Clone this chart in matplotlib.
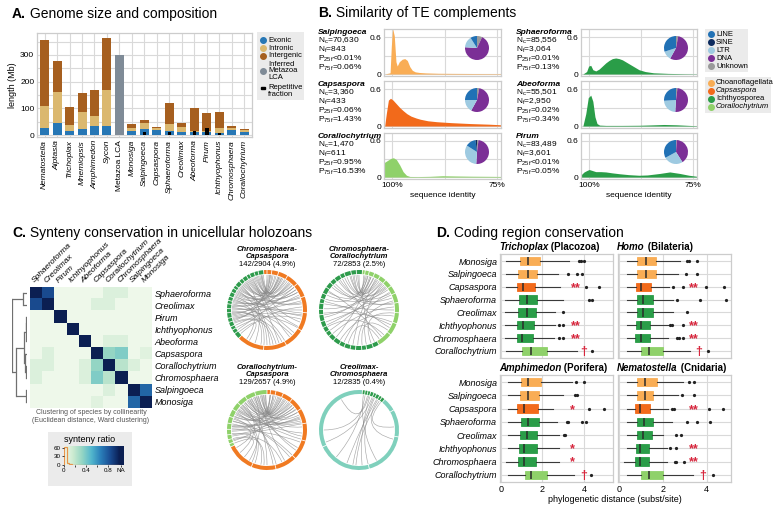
import numpy as np
import matplotlib
matplotlib.use('Agg')
import matplotlib.pyplot as plt
from matplotlib.patches import Wedge, Rectangle, PathPatch
from matplotlib.path import Path
from matplotlib.colors import LinearSegmentedColormap

plt.rcParams['font.family'] = ['Liberation Sans', 'DejaVu Sans']
plt.rcParams['mathtext.default'] = 'regular'

# ---------------- Panel A data ----------------
genome_species = ['Nematostella', 'Aiptasia', 'Trichoplax', 'Mnemiopsis', 'Amphimedon', 'Sycon',
                  'Metazoa LCA', 'Monosiga', 'Salpingoeca', 'Capsaspora', 'Sphaeroforma', 'Creolimax',
                  'Abeoforma', 'Pirum', 'Ichthyophonus', 'Chromosphaera', 'Corallochytrium']
exonic = [25, 45, 15, 22, 35, 33, 0, 16, 22, 20, 15, 13, 12, 10, 8, 20, 13]
intronic = [85, 115, 23, 63, 35, 135, 0, 9, 23, 6, 25, 19, 4, 5, 20, 5, 7]
intergenic = [247, 117, 67, 72, 98, 194, 0, 16, 10, 4, 82, 12, 85, 69, 60, 10, 4]
metazoa_lca = [0, 0, 0, 0, 0, 0, 300, 0, 0, 0, 0, 0, 0, 0, 0, 0, 0]
repetitive = [0, 0, 0, 0, 0, 0, 0, 1, 12, 2, 10, 2, 17, 28, 8, 2, 1]

# ---------------- Panel B data ----------------
te_species = ['Salpingoeca', 'Capsaspora', 'Corallochytrium', 'Sphaeroforma', 'Abeoforma', 'Pirum']
te_nc = ['70,630', '3,360', '1,470', '85,556', '55,501', '83,489']
te_nf = ['843', '433', '611', '3,064', '2,950', '3,601']
te_p25 = ['<0.01%', '=0.06%', '=0.95%', '=0.01%', '=0.02%', '<0.01%']
te_p75 = ['=0.06%', '=1.43%', '=16.53%', '=0.13%', '=0.34%', '=0.05%']
te_group = ['Choanoflagellata', 'Capsaspora', 'Corallochytrium', 'Ichthyosporea', 'Ichthyosporea', 'Ichthyosporea']
te_classes = ['Unknown', 'DNA', 'LTR', 'LINE', 'SINE']
te_pie = [[0.07, 0.69, 0.15, 0.09, 0.00],
          [0.03, 0.55, 0.17, 0.25, 0.00],
          [0.02, 0.49, 0.33, 0.14, 0.02],
          [0.03, 0.55, 0.12, 0.30, 0.00],
          [0.02, 0.49, 0.23, 0.26, 0.00],
          [0.01, 0.40, 0.26, 0.33, 0.00]]
sal_x = [101.8, 100.5, 100.2, 99.9, 99.5, 99.1, 98.8, 98.3, 97.6, 97.0, 96.4, 95.8, 95.2, 94.5, 93.5, 92.0, 89.0, 85.0, 80.0, 74.0]
sal_y = [0.0, 0.02, 0.45, 0.74, 0.62, 0.20, 0.13, 0.20, 0.24, 0.25, 0.22, 0.12, 0.06, 0.035, 0.025, 0.018, 0.012, 0.01, 0.008, 0.006]
cap_x = [101.8, 101.4, 100.9, 100.4, 99.8, 99.0, 98.2, 97.4, 96.5, 95.5, 94.3, 93.3, 91.5, 89.4, 86.0, 81.4, 77.0, 74.0]
cap_y = [0.0, 0.2, 0.42, 0.45, 0.42, 0.36, 0.30, 0.25, 0.20, 0.16, 0.13, 0.11, 0.085, 0.07, 0.055, 0.04, 0.03, 0.02]
cor_x = [101.9, 101.0, 100.3, 99.7, 99.0, 98.2, 97.4, 96.6, 95.8, 94.0, 91.0, 88.0, 85.0, 81.0, 77.0, 74.0]
cor_y = [0.24, 0.28, 0.31, 0.32, 0.29, 0.20, 0.09, 0.03, 0.01, 0.008, 0.012, 0.022, 0.018, 0.014, 0.012, 0.01]
sph_x = [101.5, 100.6, 100.1, 99.6, 99.1, 98.4, 97.6, 96.8, 96.0, 95.2, 94.4, 93.6, 92.8, 92.0, 91.0, 90.0, 89.0, 88.0, 86.5, 84.5, 81.0, 77.0, 74.0]
sph_y = [0.0, 0.04, 0.13, 0.14, 0.07, 0.05, 0.08, 0.13, 0.18, 0.22, 0.25, 0.26, 0.25, 0.23, 0.19, 0.15, 0.11, 0.07, 0.04, 0.02, 0.01, 0.005, 0.003]
abe_x = [101.5, 100.8, 100.2, 99.6, 99.1, 98.6, 98.1, 97.5, 96.0, 92.0, 88.0, 85.0, 82.0, 79.0, 76.0, 74.0]
abe_y = [0.0, 0.2, 0.46, 0.5, 0.4, 0.15, 0.04, 0.015, 0.01, 0.01, 0.012, 0.018, 0.025, 0.02, 0.01, 0.005]
pir_x = [101.9, 101.2, 100.5, 100.0, 99.3, 98.4, 97.2, 96.0, 94.5, 92.7, 90.5, 88.0, 86.0, 83.0, 80.6, 78.2, 76.0, 74.0]
pir_y = [0.04, 0.085, 0.11, 0.125, 0.11, 0.09, 0.09, 0.085, 0.07, 0.055, 0.04, 0.03, 0.035, 0.06, 0.085, 0.06, 0.03, 0.012]
te_curves_x = [sal_x, cap_x, cor_x, sph_x, abe_x, pir_x]
te_curves_y = [sal_y, cap_y, cor_y, sph_y, abe_y, pir_y]

# ---------------- Panel C data ----------------
syn_species = ['Sphaeroforma', 'Creolimax', 'Pirum', 'Ichthyophonus', 'Abeoforma',
               'Capsaspora', 'Corallochytrium', 'Chromosphaera', 'Salpingoeca', 'Monosiga']
syn_base = 0.02
syn_pairs = [(0, 1, 0.85), (0, 6, 0.10), (0, 7, 0.10), (1, 5, 0.10), (1, 6, 0.10),
             (4, 6, 0.10), (4, 7, 0.10), (5, 6, 0.33), (5, 7, 0.38), (5, 9, 0.08),
             (6, 7, 0.22), (6, 8, 0.10), (8, 9, 0.75)]
# linkage: (child a, child b, height); leaves 0-9, clusters 10+
syn_linkage = [(2, 3, 0.25), (6, 7, 0.30), (8, 9, 0.20), (4, 10, 0.40), (5, 11, 0.50),
               (13, 14, 0.80), (0, 1, 0.95), (15, 12, 2.85), (16, 17, 4.0)]
syn_hist = [62, 6, 2, 1, 1, 0, 1, 0, 0, 0, 0, 0, 0, 0, 0, 1, 1, 1, 0, 0]

circ_titles = ['Chromosphaera-\nCapsaspora', 'Chromosphaera-\nCorallochytrium',
               'Corallochytrium-\nCapsaspora', 'Creolimax-\nChromosphaera']
circ_counts = ['142/2904 (4.9%)', '72/2853 (2.5%)', '129/2657 (4.9%)', '12/2835 (0.4%)']
circ_species = [['Chromosphaera', 'Capsaspora'], ['Chromosphaera', 'Corallochytrium'],
                ['Corallochytrium', 'Capsaspora'], ['Creolimax', 'Chromosphaera']]
circ_start = [95, 85, 90, 85]
circ_contigs = [
    [[8, 6, 7, 5, 7, 6, 8, 5, 6, 7, 6, 5, 7, 6, 8, 6, 7, 5, 6, 9],
     [40, 34, 30, 27, 24, 21, 18, 14, 10, 7, 5]],
    [[9, 8, 10, 7, 9, 8, 9, 10, 8, 7, 9, 8, 10, 9, 8, 7, 9, 10, 8, 9, 8, 9, 7, 10, 9],
     [22, 18, 16, 15, 14, 12, 11, 10, 9, 8, 6, 4]],
    [[18, 15, 14, 12, 11, 10, 9, 8, 7, 6, 5],
     [42, 36, 32, 29, 26, 22, 19, 15, 11, 8, 5]],
    [[120, 80, 65, 40, 20],
     [5, 4, 5, 4, 5, 4, 4, 4]],
]
link_a = [
    [98, 102, 106, 110, 114, 118, 122, 126, 130, 134, 138, 142, 146, 150, 154, 158, 162, 166, 170, 174,
     178, 182, 186, 190, 194, 198, 202, 206, 210, 214, 218, 222, 100, 112, 124, 136, 148, 160, 172, 184,
     104, 108, 116, 120, 128, 132, 140, 144, 152, 156, 164, 168, 176, 180, 188, 192, 196, 200, 96, 99],
    [90, 95, 100, 105, 110, 118, 125, 132, 140, 148, 155, 162, 170, 178, 185, 192, 200, 208, 215, 222,
     230, 238, 245, 252, 260, 268, 275, 282, 290, 296, 92, 98, 103, 114, 122, 136, 150, 166, 188, 205],
    [92, 95, 98, 101, 104, 107, 110, 113, 116, 119, 122, 125, 128, 131, 134, 137, 140, 143, 146, 150,
     154, 158, 162, 166, 170, 174, 178, 182, 186, 190, 194, 198, 202, 96, 108, 120, 135, 148, 160, 175,
     93, 99, 105, 111, 117, 123, 129, 139, 145, 152, 157, 165, 172, 180, 188, 196],
    [55, 60, 64, 68, 72, 76, 80, 83, 58, 66, 74, 52],
]
link_b = [
    [60, -20, 85, 30, -70, 70, 10, -110, 45, 80, -40, 20, -90, 55, -5, 75, -125, 35, -60, 65,
     0, -100, 50, 15, -30, 88, -80, 25, -15, 40, -120, 5, 72, -50, 90, -85, 30, -10, 68, -75,
     82, 58, 40, 77, 12, 63, -28, 86, 48, -95, 22, 70, -45, 35, 84, -8, 52, -65, 66, 44],
    [70, 40, 80, 10, 55, -30, 75, 20, 60, -50, 35, 78, 0, 50, -20, 65, 25, -45, 45, 5,
     72, -10, 30, -55, 62, 15, -35, 48, -5, 82, 58, 76, 66, 42, 28, 12, 70, -25, 52, 38],
    [60, -10, 80, 25, -60, 45, -120, 70, 5, -90, 35, -30, 85, -140, 50, 15, -75, 65, -5, -110,
     40, 75, -45, 20, -150, 55, -20, 30, -100, 10, -65, 48, -130, 85, -35, 62, -80, 18, -115, 40,
     78, 66, 52, 30, 84, 72, 58, -15, 44, 12, 68, -50, 36, 80, 22, -95],
    [265, 250, 285, 200, 275, 180, 230, 300, 345, 260, 120, 5],
]

# ---------------- Panel D data ----------------
cod_species = ['Monosiga', 'Salpingoeca', 'Capsaspora', 'Sphaeroforma', 'Creolimax',
               'Ichthyophonus', 'Chromosphaera', 'Corallochytrium']
cod_ref = ['Trichoplax', 'Homo', 'Amphimedon', 'Nematostella']
cod_clade = [' (Placozoa)', ' (Bilateria)', ' (Porifera)', ' (Cnidaria)']
cod_lo = [[0.25, 0.28, 0.28, 0.22, 0.22, 0.22, 0.22, 0.28],
          [0.36, 0.36, 0.36, 0.36, 0.36, 0.36, 0.36, 0.36],
          [0.37, 0.37, 0.37, 0.37, 0.37, 0.37, 0.27, 0.33],
          [0.36, 0.36, 0.36, 0.36, 0.36, 0.36, 0.24, 0.36]]
cod_q1 = [[0.93, 0.85, 0.77, 0.90, 0.85, 0.80, 0.80, 1.04],
          [0.85, 0.85, 0.79, 0.85, 0.82, 0.79, 0.75, 1.00],
          [0.96, 0.93, 0.80, 0.98, 0.93, 0.87, 0.85, 1.15],
          [0.85, 0.82, 0.73, 0.85, 0.85, 0.79, 0.74, 1.00]]
cod_med = [[1.30, 1.30, 1.07, 1.28, 1.25, 1.07, 1.03, 1.46],
           [1.22, 1.22, 1.01, 1.10, 1.10, 1.01, 1.01, 1.39],
           [1.31, 1.31, 1.12, 1.31, 1.28, 1.14, 1.12, 1.46],
           [1.21, 1.21, 0.97, 1.15, 1.09, 0.97, 0.97, 1.39]]
cod_q3 = [[1.89, 1.76, 1.63, 1.73, 1.70, 1.60, 1.54, 2.22],
          [1.70, 1.68, 1.45, 1.55, 1.55, 1.42, 1.42, 2.00],
          [1.95, 1.84, 1.77, 1.84, 1.73, 1.73, 1.70, 2.22],
          [1.76, 1.58, 1.42, 1.58, 1.52, 1.39, 1.39, 2.03]]
cod_hi = [[3.25, 2.72, 2.82, 2.96, 2.60, 2.60, 2.55, 3.65],
          [2.79, 2.71, 2.30, 2.48, 2.48, 2.25, 2.25, 3.24],
          [3.41, 3.00, 2.52, 2.68, 2.77, 2.81, 2.81, 3.50],
          [2.91, 2.71, 2.25, 2.40, 2.00, 2.21, 2.21, 3.39]]
cod_out = [[[3.73, 3.85, 3.97], [3.21, 3.64, 3.88], [4.10, 4.70], [4.20, 4.37], [2.96], [2.80, 2.99], [2.80, 2.99], [4.37]],
           [[3.09, 3.21, 3.55], [3.05, 3.55], [2.48, 2.90, 3.95, 4.79], [2.66, 3.70, 4.87], [3.10], [2.35, 2.41, 2.90], [2.65, 2.75, 2.90], [4.06]],
           [[3.60, 4.00], [3.55, 3.63], [4.24, 4.94], [3.15, 3.20, 3.90, 4.10], [3.01, 3.09], [], [], [4.30]],
           [[3.21, 3.42], [2.86, 3.42], [2.40, 2.50, 4.10, 4.73], [3.12, 3.55, 4.15], [2.60, 2.85], [2.35, 2.60], [2.55, 2.60, 2.97], [4.30]]]
cod_mark = [['', '', '**', '', '', '**', '**', '†'],
            ['', '', '**', '', '', '**', '**', '†'],
            ['', '', '*', '', '', '*', '*', '†'],
            ['', '', '**', '', '', '**', '**', '†']]
cod_mark_x = [[0, 0, 3.57, 0, 0, 3.57, 3.57, 3.97],
              [0, 0, 3.42, 0, 0, 3.42, 3.42, 3.64],
              [0, 0, 3.41, 0, 0, 3.41, 3.41, 3.95],
              [0, 0, 3.42, 0, 0, 3.42, 3.42, 3.82]]

# ---------------- colours ----------------
c_exonic, c_intronic, c_intergenic, c_lca = '#2777b5', '#dbb86f', '#a65f1f', '#7f8b97'
te_colors = {'LINE': '#2171b5', 'SINE': '#0b2a5e', 'LTR': '#9ecae1', 'DNA': '#7b2f96', 'Unknown': '#9a9a9a'}
grp_colors = {'Choanoflagellata': '#f9ad55', 'Capsaspora': '#f26a1b', 'Ichthyosporea': '#2a9d48',
              'Corallochytrium': '#8fd16a'}
sp_colors = {'Monosiga': '#f9ad55', 'Salpingoeca': '#f9ad55', 'Capsaspora': '#f26a1b',
             'Sphaeroforma': '#2a9d48', 'Creolimax': '#2a9d48', 'Ichthyophonus': '#2a9d48',
             'Chromosphaera': '#2a9d48', 'Corallochytrium': '#8fd16a'}
circ_colors = {'Chromosphaera': '#2e9b4c', 'Capsaspora': '#f07a22', 'Corallochytrium': '#8fd16a',
               'Creolimax': '#7fd0bc'}
grid_c = '#d9d9d9'
frame_c = '#cccccc'
red = '#d7263d'

W, H = 778, 508
fig = plt.figure(figsize=(W / 100, H / 100), dpi=100)
fig.patch.set_facecolor('white')
renderer = fig.canvas.get_renderer()


def px_ax(l, t, r, b, **kw):
    return fig.add_axes([l / W, 1 - b / H, (r - l) / W, (b - t) / H], **kw)


def ptext(x, y, s, **kw):
    return fig.text(x / W, 1 - y / H, s, **kw)


def mixed(x, y, parts, **common):
    for s, kw in parts:
        t = ptext(x, y, s, **common, **kw)
        x += t.get_window_extent(renderer).width


def box_ax(l, t, r, b, fc='#ebebeb'):
    a = px_ax(l, t, r, b)
    a.set_xlim(l, r)
    a.set_ylim(b, t)
    a.set_xticks([])
    a.set_yticks([])
    for s in a.spines.values():
        s.set_visible(False)
    a.set_facecolor(fc)
    return a


def frame(ax):
    for s in ax.spines.values():
        s.set_color(frame_c)
        s.set_linewidth(0.9)


# ================= Panel A =================
mixed(12, 14, [('A.', dict(fontweight='bold')), (' Genome size and composition', {})],
      fontsize=10, va='center')
axA = px_ax(37, 33, 252, 137)
xa = np.arange(len(genome_species))
bw = 0.72
bot2 = np.add(exonic, intronic)
axA.bar(xa, exonic, bw, color=c_exonic, zorder=2)
axA.bar(xa, intronic, bw, bottom=exonic, color=c_intronic, zorder=2)
axA.bar(xa, intergenic, bw, bottom=bot2, color=c_intergenic, zorder=2)
axA.bar(xa, metazoa_lca, bw, color=c_lca, zorder=2)
axA.bar(xa, repetitive, 0.28, color='black', zorder=3)
axA.set_xlim(-0.6, len(genome_species) - 0.4)
axA.set_ylim(-7, 382)
axA.set_xticks(xa)
axA.set_xticklabels(genome_species, rotation=90, fontsize=6)
for i, lab in enumerate(axA.get_xticklabels()):
    if genome_species[i] != 'Metazoa LCA':
        lab.set_fontstyle('italic')
axA.set_yticks([0, 100, 200, 300])
axA.set_yticks([50, 150, 250, 350], minor=True)
axA.tick_params(axis='both', which='both', length=0, labelsize=6, pad=2)
axA.grid(True, which='both', color=grid_c, lw=0.8)
axA.set_axisbelow(True)
axA.set_ylabel('length (Mb)', fontsize=6.5, labelpad=2)
frame(axA)

lgA = box_ax(257, 32, 304, 100)
itemsA = [('Exonic', 40, c_exonic, 'o'), ('Intronic', 48, c_intronic, 'o'), ('Intergenic', 55.5, c_intergenic, 'o'),
          ('Inferred\nMetazoa\nLCA', 71, c_lca, 'o'), ('Repetitive\nfraction', 91, 'black', 's')]
for lab, yy, col, mk in itemsA:
    if mk == 'o':
        lgA.plot([263], [yy], 'o', color=col, ms=4, clip_on=False)
    else:
        lgA.add_patch(Rectangle((261, yy - 4.5), 4, 2, color=col))
    lgA.text(268, yy, lab, fontsize=5.5, va='center', ha='left', linespacing=0.95)

# ================= Panel B =================
mixed(318, 13, [('B.', dict(fontweight='bold')), (' Similarity of TE complements', {})],
      fontsize=10, va='center')
row_t = [29, 81, 133]
row_b = [76, 128, 179]
col_l = [384, 581]
col_r = [501, 697]
txt_x = [318, 516]
pie_cx = [477, 676]
for i, sp in enumerate(te_species):
    c, r = divmod(i, 3)
    ax = px_ax(col_l[c], row_t[r], col_r[c], row_b[r])
    ax.fill_between(te_curves_x[i], te_curves_y[i], color=grp_colors[te_group[i]], lw=0, zorder=2)
    ax.set_xlim(101.95, 74.05)
    ax.set_ylim(-0.032, 0.73)
    ax.set_yticks([0, 0.6])
    ax.set_yticklabels(['0', '0.6'])
    ax.set_yticks([0.3], minor=True)
    ax.set_xticks([100, 87.5, 75])
    if r == 2:
        ax.set_xticklabels(['100%', '', '75%'])
        ax.set_xlabel('sequence identity', fontsize=6, labelpad=2)
    else:
        ax.set_xticklabels([])
    ax.tick_params(axis='both', which='both', length=0, labelsize=6, pad=2)
    ax.grid(True, which='both', color=grid_c, lw=0.8)
    ax.set_axisbelow(True)
    frame(ax)
    ty = row_t[r] + 3
    ptext(txt_x[c], ty, sp, fontsize=6.0, fontweight='bold', fontstyle='italic', va='center')
    ptext(txt_x[c], ty + 9, '$N_c$=' + te_nc[i], fontsize=6.0, va='center')
    ptext(txt_x[c], ty + 18, '$N_f$=' + te_nf[i], fontsize=6.0, va='center')
    ptext(txt_x[c], ty + 27, '$P_{25f}$' + te_p25[i], fontsize=6.0, va='center')
    ptext(txt_x[c], ty + 36, '$P_{75f}$' + te_p75[i], fontsize=6.0, va='center')
    cy = row_t[r] + 19
    pa = px_ax(pie_cx[c] - 15, cy - 15, pie_cx[c] + 15, cy + 15)
    pa.pie(te_pie[i], colors=[te_colors[k] for k in te_classes], startangle=90, counterclock=False,
           wedgeprops=dict(lw=0))
    pa.set_aspect('equal')

lgB1 = box_ax(705, 29, 748, 72)
for k, (lab, yy) in enumerate(zip(['LINE', 'SINE', 'LTR', 'DNA', 'Unknown'], [34, 42, 50, 58, 66])):
    lgB1.plot([711], [yy], 'o', color=te_colors[lab], ms=4, clip_on=False)
    lgB1.text(716, yy, lab, fontsize=5.5, va='center')
lgB2 = box_ax(705, 77, 771, 113)
for lab, yy in zip(['Choanoflagellata', 'Capsaspora', 'Ichthyosporea', 'Corallochytrium'], [83, 91, 99, 107]):
    lgB2.plot([711], [yy], 'o', color=grp_colors[lab], ms=4, clip_on=False)
    st = 'italic' if lab in ('Capsaspora', 'Corallochytrium') else 'normal'
    lgB2.text(716, yy, lab, fontsize=5.5, va='center', fontstyle=st)

# ================= Panel C =================
mixed(12, 233, [('C.', dict(fontweight='bold')), (' Synteny conservation in unicellular holozoans', {})],
      fontsize=10, va='center')
n = len(syn_species)
M = np.full((n, n), syn_base)
for a, b, v in syn_pairs:
    M[a, b] = v
    M[b, a] = v
np.fill_diagonal(M, np.nan)
syn_cmap = LinearSegmentedColormap.from_list(
    'syn', ['#f3faee', '#cbead0', '#93d5c4', '#52b6cd', '#2b80ba', '#1b4f95', '#0b2158'])
syn_cmap.set_bad('#0b1f52')
axC = px_ax(30, 287, 152, 408)
axC.imshow(M, cmap=syn_cmap, vmin=0, vmax=1, aspect='auto', interpolation='nearest')
axC.set_xticks(np.arange(n))
axC.set_yticks(np.arange(n))
axC.xaxis.tick_top()
axC.yaxis.tick_right()
axC.set_xticklabels(syn_species, rotation=45, ha='left', va='bottom', rotation_mode='anchor',
                    fontsize=6, fontstyle='italic')
axC.set_yticklabels(syn_species, fontsize=6.5, fontstyle='italic')
axC.tick_params(length=0, pad=2)
for s in axC.spines.values():
    s.set_visible(False)

# dendrogram
axD = px_ax(12, 287, 27, 408)
pos = {i: float(i) for i in range(n)}
hgt = {i: 0.0 for i in range(n)}
for k, (a, b, h) in enumerate(syn_linkage):
    node = n + k
    for ch in (a, b):
        axD.plot([hgt[ch], h], [pos[ch], pos[ch]], color='#707070', lw=0.9, solid_capstyle='butt')
    axD.plot([h, h], [pos[a], pos[b]], color='#707070', lw=0.9)
    pos[node] = (pos[a] + pos[b]) / 2
    hgt[node] = h
axD.set_xlim(syn_linkage[-1][2] * 1.01, 0)
axD.set_ylim(n - 0.5, -0.5)
axD.axis('off')

ptext(91, 413, 'Clustering of species by collinearity', fontsize=5, color='#555555', ha='center', va='center')
ptext(91, 420, '(Euclidean distance, Ward clustering)', fontsize=5, color='#555555', ha='center', va='center')

box_ax(48, 432, 132, 486)
ptext(90, 439, 'synteny ratio', fontsize=6.5, ha='center', va='center')
axCB = px_ax(64, 446, 124, 465)
axCB.imshow(np.linspace(0, 1, 256)[None, :], cmap=syn_cmap, extent=[0, 1, 0, 66], aspect='auto')
axCB.add_patch(Rectangle((1.0, 0), 0.1, 66, color='#0b1f52'))
edges = np.linspace(0, 1, len(syn_hist) + 1)
axCB.stairs(syn_hist, edges, color='#e8944a', lw=0.9)
axCB.set_xlim(0, 1.1)
axCB.set_ylim(0, 66)
axCB.set_xticks([0, 0.4, 0.8, 1.05])
axCB.set_xticklabels(['0', '0.4', '0.8', 'NA'])
axCB.set_xticks([0.2, 0.6], minor=True)
axCB.set_yticks([0, 30, 60])
axCB.tick_params(which='both', labelsize=4.5, length=1.5, width=0.5, pad=1)
for s in axCB.spines.values():
    s.set_visible(False)

# circos plots
circ_centers = [(267, 310), (359, 310), (267, 430), (359, 430)]
circ_title_y = [246, 246, 364, 364]
for ci in range(4):
    cx, cy = circ_centers[ci]
    ax = px_ax(cx - 44, cy - 44, cx + 44, cy + 44)
    ax.set_xlim(-1.1, 1.1)
    ax.set_ylim(-1.1, 1.1)
    ax.set_aspect('equal')
    ax.axis('off')
    total = sum(sum(c) for c in circ_contigs[ci])
    ang = circ_start[ci]
    for sp, contigs in zip(circ_species[ci], circ_contigs[ci]):
        for L in contigs:
            span = 360.0 * L / total
            ax.add_patch(Wedge((0, 0), 1.0, ang + 0.6, ang + span - 0.6, width=0.1,
                               color=circ_colors[sp], lw=0))
            ang += span
    for a, b in zip(link_a[ci], link_b[ci]):
        ra, rb = np.deg2rad(a), np.deg2rad(b)
        p1 = (0.88 * np.cos(ra), 0.88 * np.sin(ra))
        p2 = (0.88 * np.cos(rb), 0.88 * np.sin(rb))
        path = Path([p1, (0, 0), p2], [Path.MOVETO, Path.CURVE3, Path.CURVE3])
        ax.add_patch(PathPatch(path, fc='none', ec='#8a8a8a', lw=0.45, alpha=0.75))
    ptext(cx, circ_title_y[ci], circ_titles[ci], fontsize=5.5, fontweight='bold', fontstyle='italic',
          ha='center', va='top', linespacing=1.0)
    ptext(cx, circ_title_y[ci] + 15, circ_counts[ci], fontsize=5.5, ha='center', va='top')

# ================= Panel D =================
mixed(436, 233, [('D.', dict(fontweight='bold')), (' Coding region conservation', {})],
      fontsize=10, va='center')
d_rects = [(500, 254, 613, 358), (618, 254, 731, 358), (500, 375, 613, 482), (618, 375, 731, 482)]
d_xmax = [5.37, 5.1, 5.37, 5.1]
for p in range(4):
    l, t, r, b = d_rects[p]
    ax = px_ax(l, t, r, b)
    stats = []
    for i, sp in enumerate(cod_species):
        stats.append(dict(whislo=cod_lo[p][i], q1=cod_q1[p][i], med=cod_med[p][i], q3=cod_q3[p][i],
                          whishi=cod_hi[p][i], fliers=cod_out[p][i], label=sp))
    kw = dict(positions=np.arange(len(cod_species)), widths=0.64, patch_artist=True, showcaps=False,
              boxprops=dict(lw=0.6), medianprops=dict(color='#2b2b2b', lw=1.1),
              whiskerprops=dict(color='#3a3a3a', lw=0.8),
              flierprops=dict(marker='o', ms=1.3, mfc='#222222', mec='#222222'))
    try:
        bp = ax.bxp(stats, orientation='horizontal', **kw)
    except TypeError:
        bp = ax.bxp(stats, vert=False, **kw)
    for i, box in enumerate(bp['boxes']):
        box.set_facecolor(sp_colors[cod_species[i]])
        box.set_edgecolor(sp_colors[cod_species[i]])
    for i in range(len(cod_species)):
        if cod_mark[p][i]:
            ax.text(cod_mark_x[p][i], i + 0.08, cod_mark[p][i], color=red, fontsize=9, fontweight='bold',
                    ha='center', va='center')
    ax.set_ylim(len(cod_species) - 0.45, -0.55)
    ax.set_xlim(-0.03, d_xmax[p])
    ax.set_xticks([0, 2, 4])
    ax.set_yticks(np.arange(len(cod_species)))
    if p % 2 == 0:
        ax.set_yticklabels(cod_species, fontsize=6.5, fontstyle='italic')
    else:
        ax.set_yticklabels([])
    if p >= 2:
        ax.set_xticklabels(['0', '2', '4'], fontsize=6.5)
    else:
        ax.set_xticklabels([])
    ax.tick_params(length=0, pad=2)
    ax.grid(True, color=grid_c, lw=0.8)
    ax.set_axisbelow(True)
    frame(ax)
    mixed(l - 1, t - 7, [(cod_ref[p], dict(fontstyle='italic')), (cod_clade[p], {})],
          fontsize=7, fontweight='bold', va='center')
ptext(615, 499, 'phylogenetic distance (subst/site)', fontsize=6.5, ha='center', va='center')

fig.savefig('out.png', dpi=100)
